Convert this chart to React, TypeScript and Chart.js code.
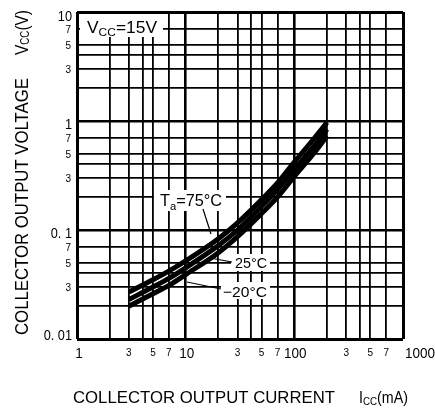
import React, { useEffect, useRef } from "react";
import { Chart, registerables } from "chart.js";

Chart.register(...registerables);

// ---- data ----
const currentMA = [3, 5, 7, 10, 20, 30, 50, 70, 100, 150, 200];
const vcc75C = [0.027, 0.035, 0.042, 0.052, 0.083, 0.116, 0.19, 0.27, 0.42, 0.68, 0.97];
const vcc25C = [0.023, 0.03, 0.036, 0.045, 0.072, 0.1, 0.165, 0.235, 0.36, 0.58, 0.84];
const vccMinus20C = [0.02, 0.026, 0.031, 0.039, 0.062, 0.087, 0.142, 0.2, 0.31, 0.5, 0.73];
const seriesNames = ["75°C", "25°C", "−20°C"];

const xGridValues = [1, 2, 3, 4, 5, 7, 10, 20, 30, 40, 50, 70, 100, 200, 300, 400, 500, 700, 1000];
const yGridValues = [0.01, 0.02, 0.03, 0.04, 0.05, 0.07, 0.1, 0.2, 0.3, 0.4, 0.5, 0.7, 1, 2, 3, 4, 5, 7, 10];

const xTickValues = [1, 3, 5, 7, 10, 30, 50, 70, 100, 300, 500, 700, 1000];
const xTickLabels = ["1", "3", "5", "7", "10", "3", "5", "7", "100", "3", "5", "7", "1000"];
const yTickValues = [0.01, 0.03, 0.05, 0.07, 0.1, 0.3, 0.5, 0.7, 1, 3, 5, 7, 10];
const yTickLabels = ["0. 01", "3", "5", "7", "0. 1", "3", "5", "7", "1", "3", "5", "7", "10"];

const FONT = '"Liberation Sans", Arial, sans-serif';

type Run = { t: string; size: number; dy?: number };

const isDecade = (v: number) => Math.abs(Math.log10(v) - Math.round(Math.log10(v))) < 1e-9;

function runsWidth(ctx: CanvasRenderingContext2D, runs: Run[]) {
  let w = 0;
  for (const r of runs) {
    ctx.font = `${r.size}px ${FONT}`;
    w += ctx.measureText(r.t).width;
  }
  return w;
}

function drawRuns(
  ctx: CanvasRenderingContext2D,
  x: number,
  y: number,
  runs: Run[],
  opts: { width?: number; sx?: number; rotate?: boolean; align?: "left" | "center" | "right" } = {}
) {
  ctx.save();
  ctx.translate(x, y);
  if (opts.rotate) ctx.rotate(-Math.PI / 2);
  const w = runsWidth(ctx, runs);
  let sx = opts.sx ?? 1;
  if (opts.width) sx = opts.width / w;
  const total = w * sx;
  let start = 0;
  if (opts.align === "center") start = -total / 2;
  if (opts.align === "right") start = -total;
  ctx.translate(start, 0);
  ctx.scale(sx, 1);
  ctx.textAlign = "left";
  ctx.textBaseline = "alphabetic";
  let cx = 0;
  for (const r of runs) {
    ctx.font = `${r.size}px ${FONT}`;
    ctx.fillText(r.t, cx, r.dy ?? 0);
    cx += ctx.measureText(r.t).width;
  }
  ctx.restore();
}

const overlayPlugin = {
  id: "overlay",
  afterDatasetsDraw(chart: any) {
    const ctx: CanvasRenderingContext2D = chart.ctx;
    const xs = chart.scales.x;
    const ys = chart.scales.y;
    ctx.save();
    ctx.fillStyle = "#000";
    ctx.strokeStyle = "#000";

    // x tick labels
    xTickValues.forEach((v, i) => {
      const px = xs.getPixelForValue(v);
      const major = isDecade(v);
      const lab = xTickLabels[i];
      if (major) {
        if (i === xTickValues.length - 1) {
          drawRuns(ctx, px + 2, 358, [{ t: lab, size: 15 }], { sx: 0.9, align: "left" });
        } else {
          drawRuns(ctx, px + (i === 0 ? 2 : 1), 358, [{ t: lab, size: 15 }], { sx: 0.9, align: "center" });
        }
      } else {
        drawRuns(ctx, px, 356, [{ t: lab, size: 10 }], { align: "center" });
      }
    });

    // y tick labels
    yTickValues.forEach((v, i) => {
      const py = ys.getPixelForValue(v);
      const major = isDecade(v);
      const lab = yTickLabels[i];
      if (major) {
        let base = py + 8;
        if (i === 0) base = py + 1;
        if (i === yTickValues.length - 1) base = py + 9;
        drawRuns(ctx, 72, base, [{ t: lab, size: 15 }], { sx: 0.85, align: "right" });
      } else {
        drawRuns(ctx, 71, py + 4.5, [{ t: lab, size: 10 }], { align: "right" });
      }
    });

    // axis titles
    drawRuns(ctx, 73, 403, [{ t: "COLLECTOR OUTPUT CURRENT", size: 16 }], { width: 262 });
    drawRuns(
      ctx,
      359,
      403,
      [
        { t: "I", size: 16 },
        { t: "CC", size: 11, dy: 2 },
        { t: "(mA)", size: 16 },
      ],
      { width: 49 }
    );
    drawRuns(ctx, 28, 335, [{ t: "COLLECTOR OUTPUT VOLTAGE", size: 19 }], { width: 257, rotate: true });
    drawRuns(
      ctx,
      28,
      55,
      [
        { t: "V", size: 19 },
        { t: "CC", size: 12, dy: 1 },
        { t: "(V)", size: 19 },
      ],
      { width: 45, rotate: true }
    );

    // Vcc box
    ctx.fillStyle = "#fff";
    ctx.fillRect(80, 14, 83, 23);
    ctx.fillStyle = "#000";
    drawRuns(ctx, 87, 33, [
      { t: "V", size: 16 },
      { t: "CC", size: 11, dy: 3 },
      { t: "=15V", size: 16 },
    ], { width: 70 });

    // Ta = 75°C label
    ctx.fillStyle = "#fff";
    ctx.fillRect(154, 190, 72, 21);
    ctx.fillStyle = "#000";
    drawRuns(ctx, 160, 206, [
      { t: "T", size: 16 },
      { t: "a", size: 11, dy: 4 },
      { t: "=75°C", size: 16 },
    ], { width: 62 });

    // 25°C label
    ctx.fillStyle = "#fff";
    ctx.fillRect(231, 254, 39, 17);
    ctx.fillStyle = "#000";
    drawRuns(ctx, 235, 268, [{ t: seriesNames[1], size: 15 }], { width: 32 });

    // -20°C label
    ctx.fillStyle = "#fff";
    ctx.fillRect(221, 282, 49, 17);
    ctx.fillStyle = "#000";
    drawRuns(ctx, 223, 297, [{ t: seriesNames[2], size: 15 }], { width: 44 });

    // leader lines
    ctx.lineWidth = 1.2;
    ctx.beginPath();
    ctx.moveTo(203, 209);
    ctx.lineTo(211, 234);
    ctx.moveTo(210, 258);
    ctx.lineTo(232, 262);
    ctx.moveTo(187, 282);
    ctx.lineTo(221, 289);
    ctx.stroke();

    ctx.restore();
  },
};

function gridWidth(c: any, min: number, max: number) {
  const v = c.tick?.value;
  if (v === undefined) return 1.8;
  if (Math.abs(v - min) < 1e-9 || Math.abs(v - max) < 1e-9) return 3;
  return isDecade(v) ? 2.6 : 1.8;
}

export default function App() {
  const ref = useRef<HTMLCanvasElement | null>(null);

  useEffect(() => {
    if (!ref.current) return;
    const series = [vcc75C, vcc25C, vccMinus20C];
    const chart = new Chart(ref.current, {
      type: "line",
      data: {
        datasets: series.map((arr, k) => ({
          label: seriesNames[k],
          data: currentMA.map((x, i) => ({ x, y: arr[i] })),
          borderColor: "#000",
          backgroundColor: "#000",
          borderWidth: 5,
          pointRadius: 0,
          fill: false,
          cubicInterpolationMode: "monotone" as const,
          borderCapStyle: "butt" as const,
        })),
      },
      options: {
        responsive: false,
        animation: false,
        events: [],
        layout: { padding: { left: 77, top: 12, right: 32, bottom: 74 } },
        plugins: { legend: { display: false }, tooltip: { enabled: false } },
        scales: {
          x: {
            type: "logarithmic",
            min: 1,
            max: 1000,
            ticks: { display: false },
            border: { display: false },
            grid: { color: "#000", drawTicks: false, lineWidth: (c: any) => gridWidth(c, 1, 1000) },
            afterBuildTicks: (scale: any) => {
              scale.ticks = xGridValues.map((v) => ({ value: v }));
            },
          },
          y: {
            type: "logarithmic",
            min: 0.01,
            max: 10,
            ticks: { display: false },
            border: { display: false },
            grid: { color: "#000", drawTicks: false, lineWidth: (c: any) => gridWidth(c, 0.01, 10) },
            afterBuildTicks: (scale: any) => {
              scale.ticks = yGridValues.map((v) => ({ value: v }));
            },
          },
        },
      },
      plugins: [overlayPlugin],
    });
    return () => chart.destroy();
  }, []);

  return (
    <div style={{ position: "fixed", left: 0, top: 0, width: 435, height: 413, background: "#fff" }}>
      <canvas ref={ref} width={435} height={413} style={{ width: 435, height: 413, display: "block" }} />
    </div>
  );
}
